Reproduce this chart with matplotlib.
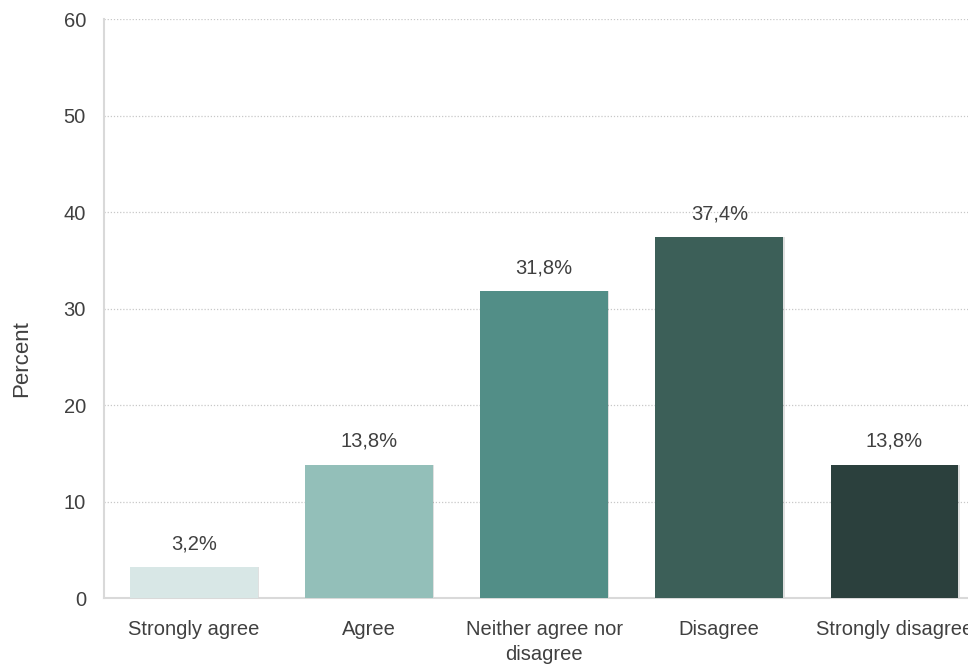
import matplotlib.pyplot as plt
import numpy as np

plt.rcParams['font.family'] = ['Liberation Sans', 'DejaVu Sans']

# Data
categories = ['Strongly agree', 'Agree', 'Neither agree nor\ndisagree', 'Disagree', 'Strongly disagree']
percent = [3.2, 13.8, 31.8, 37.4, 13.8]
colors = ['#d8e7e6', '#93bfb9', '#528e87', '#3c5f58', '#2b403d']

txt = '#404040'

fig = plt.figure(figsize=(9.68, 6.67), dpi=100)
ax = fig.add_axes([0.1074, 0.1034, 0.8926, 0.868])

x = np.arange(len(categories))
# faint shadow under bars
ax.bar(x + 0.008, percent, width=0.73, color='#000000', alpha=0.12, zorder=2)
bars = ax.bar(x, percent, width=0.73, color=colors, zorder=3)

for b, v in zip(bars, percent):
    ax.annotate(f'{v:.1f}%'.replace('.', ','), (b.get_x() + b.get_width() / 2, v),
                xytext=(0, 10), textcoords='offset points', ha='center', va='bottom',
                fontsize=14.5, color=txt)

ax.set_xlim(-0.513, 4.42)
ax.set_ylim(0, 60)
ax.set_yticks(range(0, 61, 10))
ax.set_xticks(x)
ax.set_xticklabels(categories, linespacing=1.35)
ax.tick_params(axis='both', length=0, labelsize=14.5, labelcolor=txt)
ax.tick_params(axis='y', pad=13)
ax.tick_params(axis='x', pad=16)
ax.set_ylabel('Percent', fontsize=16, color=txt)
ax.yaxis.set_label_coords(-0.083, 0.413)

ax.grid(axis='y', linestyle=(0, (1, 1.5)), color='#c8c8c8', linewidth=0.9, zorder=0)
for s in ['top', 'right']:
    ax.spines[s].set_visible(False)
ax.spines['left'].set_color('#d9d9d9')
ax.spines['bottom'].set_color('#d9d9d9')
ax.spines['left'].set_linewidth(1.5)
ax.spines['bottom'].set_linewidth(1.5)

plt.savefig('out.png', dpi=100)
